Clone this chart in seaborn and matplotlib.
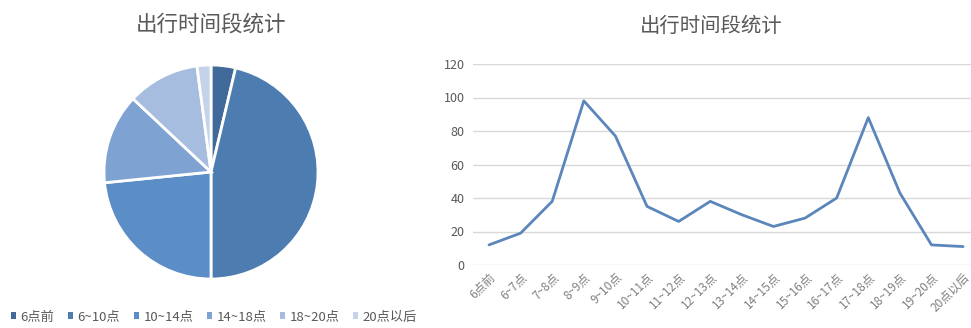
import matplotlib
matplotlib.use("Agg")
import matplotlib.pyplot as plt
from matplotlib.patches import Patch
import seaborn as sns
import pandas as pd

# Share of trips by departure period
pie_labels = ["6点前", "6~10点", "10~14点", "14~18点", "18~20点", "20点以后"]
pie_values = [3.7, 46.3, 23.4, 13.6, 10.9, 2.1]
pie_colors = ["#41699a", "#4d7cb1", "#5b8dc6", "#7ea3d3", "#a7bde0", "#c5d3ea"]

# Trip counts by hour slot
hour_labels = ["6点前", "6~7点", "7~8点", "8~9点", "9~10点", "10~11点", "11~12点",
               "12~13点", "13~14点", "14~15点", "15~16点", "16~17点", "17~18点",
               "18~19点", "19~20点", "20点以后"]
hour_counts = [12, 19, 38, 98, 77, 35, 26, 38, 30, 23, 28, 40, 88, 43, 12, 11]
y_ticks = [0, 20, 40, 60, 80, 100, 120]

title_text = "出行时间段统计"

sns.set_theme(style="white")
plt.rcParams["font.family"] = ["Noto Sans CJK SC", "DejaVu Sans"]

W, H = 971, 328
fig = plt.figure(figsize=(W / 100, H / 100), dpi=100)
fig.patch.set_facecolor("white")

def box(x0, y0, x1, y1):
    return [x0 / W, 1 - y1 / H, (x1 - x0) / W, (y1 - y0) / H]

text_grey = "#595959"

# ---- Pie chart ----
cx, cy, r = 211, 172, 107
ax_pie = fig.add_axes(box(cx - r, cy - r, cx + r, cy + r))
ax_pie.pie(pie_values, colors=pie_colors, startangle=90, counterclock=False,
           radius=1.0, wedgeprops=dict(edgecolor="white", linewidth=2.0))
ax_pie.set_xlim(-1.0, 1.0)
ax_pie.set_ylim(-1.0, 1.0)
ax_pie.set_aspect("equal")
ax_pie.axis("off")
fig.text(211 / W, 1 - 25 / H, title_text, ha="center", va="center",
         fontsize=15.5, color=text_grey)

handles = [Patch(facecolor=c, edgecolor="none") for c in pie_colors]
fig.legend(handles, pie_labels, loc="center", bbox_to_anchor=(214 / W, 1 - 317 / H),
           ncol=6, frameon=False, fontsize=9.5, handlelength=0.4, handleheight=0.4,
           handletextpad=0.35, columnspacing=1.0, labelcolor=text_grey)

# ---- Line chart ----
ax = fig.add_axes(box(473, 64, 971, 265))
df = pd.DataFrame({"slot": list(range(len(hour_labels))), "count": hour_counts})
sns.lineplot(data=df, x="slot", y="count", ax=ax, color="#5b86bb", linewidth=2.0)
ax.set_xlim(-0.506, 15.25)
ax.set_ylim(0, 120)
ax.set_yticks(y_ticks)
ax.set_yticklabels([str(v) for v in y_ticks], fontsize=9, color=text_grey)
ax.set_xticks(range(len(hour_labels)))
ax.set_xticklabels(hour_labels, rotation=45, ha="right", rotation_mode="anchor",
                   fontsize=8.5, color="#7f7f7f")
ax.tick_params(axis="both", length=0, pad=6)
ax.tick_params(axis="x", pad=4)
ax.yaxis.grid(True, color="#d9d9d9", linewidth=1)
ax.xaxis.grid(False)
for s in ax.spines.values():
    s.set_visible(False)
ax.set_xlabel("")
ax.set_ylabel("")
ax.set_facecolor("white")
fig.text(711 / W, 1 - 26 / H, title_text, ha="center", va="center",
         fontsize=14.7, color=text_grey)

fig.savefig("out.png", dpi=100, facecolor="white")
